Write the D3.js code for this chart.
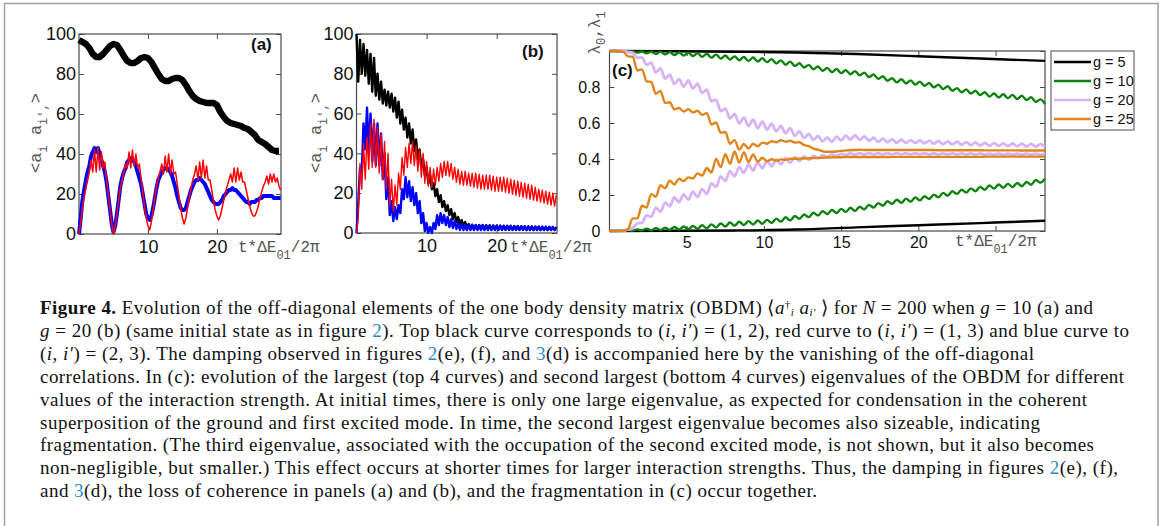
<!DOCTYPE html>
<html>
<head>
<meta charset="utf-8">
<script src="https://cdn.jsdelivr.net/npm/d3@7"></script>
<style>
  body { margin: 0; background: #fff; }
  svg { display: block; }
</style>
</head>
<body>
<div id="chart"></div>
<script>
// ---------- panel (a): g = 10 ----------
const stepBlackA = 0.5;
const blackA = [97,96,95,93,90,88.5,88.5,90,92,94,95,94.5,92,89,86.5,85.5,85.5,86.5,88,88.5,
  88,86,83,80,77.5,76.5,76.5,77.5,78,78,77,74.5,71.5,69,67.5,66.5,66,65.5,65.5,65.5,
  64.5,61,58.5,56.5,55.5,55,54.5,54,53,52.5,51,49.5,47,46,45,43.5,42,41.5,41.5];
const stepA = 0.25;
const redA = [0,6,13,19,23,27,31,37,31,42,31,43,32,41,33,36,27,20,12,5,0,
  4,10,17,23,27,31,35,33,41,33,42,34,40,33,35,28,21,14,8,4,2,
  6,12,18,24,28,31,35,30,39,31,40,30,37,30,31,25,19,13,8,5,
  8,13,18,23,27,30,34,27,36,28,37,28,34,27,27,22,17,12,9,7,
  9,13,17,21,24,27,30,26,33,26,33,27,31,26,26,22,18,14,11,9,9,
  11,14,18,21,24,26,29,25,30,26,30,26,28,24,22];
const blueA = [0,8,17,22,27,31,34,39,41,43,41,43,40,37,34,31,26,19,12,5,1,
  4,10,17,24,28,31,33,36,37,38,37,36,34,31,28,25,20,15,10,8,7,
  9,13,18,23,27,29,31,32,33,33,32,31,29,26,23,19,16,13,12,12,
  13,16,19,22,24,26,27,27,28,27,26,25,23,21,19,17,16,15,15,15,
  16,17,19,20,21,22,22,23,22,22,21,20,19,18,17,16,16,15,16,16,16,
  17,17,18,18,19,19,19,19,19,19,18,18,18,18,18];

// ---------- panel (b): g = 20 ----------
const stepB = 0.25;
const blackB = [100,76,97,80,95,79,92,75,90,71,88,69,80,67,76,65,72,64,71,63,
  70,61,68,58,66,55,62,52,58,48,55,45,52,41,47,37,42,33,37,29,
  33,25,29,22,25,18.5,22,15.5,19,13,16,11,14,9,12,7,10,5.5,8,4.5,
  6.5,3.5,5.5,3,4.5,2.5,4.2,2,4,2,4,1.9,4,1.9,3.9,1.8,3.9,1.8,3.8,1.8,
  3.8,1.8,3.7,1.7,3.7,1.7,3.6,1.7,3.6,1.6,3.5,1.6,3.5,1.6,3.4,1.6,3.4,1.5,3.3,1.5,
  3.3,1.5,3.2,1.5,3.2,1.5,3.1,1.5,3.1,1.5,3,1.5,3,1.5,3];
const redB = [0,8,35,22,45,27,48,32,55,33,57,33,53,30,50,27,46,22,40,14,
  27,11,24,14,30,22,38,29,43,33,45,35,46,34,44,31,42,28,40,25,
  36,23.5,33,23,32,24,33,26,35,28,36,29,36,28.5,35,27,33,25.5,32,24.5,
  31,24,31,24,30,23.5,30,23,30,22.5,29.5,22,29,22,29,22,29,21.5,28.5,21,
  28,21,28,21,28,20.5,27.5,20,27,19.5,26.5,19,26,18.5,25.5,18,25,17.5,24.5,17,
  24,16.5,23,16,22,15.5,21.5,15,21,14.5,20.5,14,20,13.5,19];
const blueB = [0,15,33,30,55,42,63,40,60,36,55,34,55,34,50,27,40,17,28,9,
  16,6,13,7,14,10,22,17,28,18,26,16,23,14,20,10,16,5,10,1,
  5,0,3,0,5,2,9,4,10,5,9,4,8,3,7,2.5,6,2,5,1.5,
  4.5,1.5,4.2,1.5,4,1.5,4,1.5,3.9,1.5,3.9,1.5,3.8,1.5,3.8,1.5,3.7,1.5,3.7,1.5,
  3.6,1.5,3.6,1.5,3.5,1.5,3.5,1.5,3.5,1.5,3.4,1.5,3.4,1.5,3.3,1.5,3.3,1.5,3.3,1.5,
  3.2,1.5,3.2,1.5,3.2,1.5,3.1,1.5,3.1,1.5,3.1,1.5,3,1.5,3];

// ---------- panel (c): eigenvalues lambda0 (top) and lambda1 (bottom) ----------
const tBlackC = [0,4,8,12,16,20,24,28.2];
const g5Top = [1,0.999,0.996,0.992,0.983,0.971,0.958,0.945];
const g5Bot = [0,0.001,0.003,0.008,0.02,0.032,0.044,0.057];
const stepC = 0.3;
const g10Top = [1,1,0.997,0.999,0.994,0.998,0.991,0.997,0.987,0.996,0.984,0.995,0.981,0.994,0.978,0.992,0.975,0.99,0.972,0.988,
  0.968,0.985,0.963,0.98,0.958,0.975,0.953,0.97,0.949,0.967,0.945,0.964,0.942,0.96,0.938,0.955,0.931,0.948,0.924,0.941,
  0.917,0.932,0.908,0.923,0.899,0.914,0.89,0.906,0.883,0.9,0.877,0.894,0.871,0.888,0.865,0.88,0.855,0.87,0.845,0.86,
  0.835,0.849,0.826,0.843,0.82,0.837,0.813,0.83,0.807,0.822,0.798,0.813,0.788,0.804,0.779,0.794,0.771,0.787,0.763,0.779,
  0.755,0.771,0.747,0.764,0.742,0.76,0.738,0.756,0.733,0.751,0.728,0.743,0.717,0.731,0.705];
const g10Bot = [0,0,0.003,0.001,0.006,0.002,0.009,0.003,0.013,0.004,0.016,0.005,0.019,0.006,0.022,0.008,0.025,0.01,0.028,0.012,
  0.032,0.015,0.037,0.02,0.042,0.025,0.047,0.03,0.051,0.033,0.055,0.036,0.058,0.04,0.062,0.045,0.069,0.052,0.076,0.059,
  0.083,0.068,0.092,0.077,0.101,0.086,0.11,0.094,0.117,0.1,0.123,0.106,0.129,0.112,0.135,0.12,0.145,0.13,0.155,0.14,
  0.165,0.151,0.174,0.157,0.18,0.163,0.187,0.17,0.193,0.178,0.202,0.187,0.212,0.196,0.221,0.206,0.229,0.213,0.237,0.221,
  0.245,0.229,0.253,0.236,0.258,0.24,0.262,0.244,0.267,0.249,0.272,0.257,0.283,0.269,0.29];
const g20Top = [1,1,1,1,0.995,0.99,0.962,0.965,0.923,0.935,0.882,0.903,0.847,0.868,0.817,0.843,0.802,0.836,0.792,0.818,
  0.767,0.785,0.72,0.73,0.665,0.68,0.625,0.65,0.598,0.63,0.583,0.618,0.572,0.607,0.564,0.596,0.554,0.584,0.542,0.571,
  0.529,0.554,0.517,0.54,0.506,0.529,0.498,0.519,0.496,0.524,0.503,0.53,0.508,0.532,0.506,0.526,0.501,0.518,0.495,0.513,
  0.493,0.509,0.49,0.507,0.49,0.505,0.489,0.504,0.487,0.502,0.485,0.5,0.483,0.498,0.481,0.496,0.479,0.494,0.477,0.492,
  0.475,0.49,0.473,0.488,0.472,0.487,0.471,0.486,0.47,0.485,0.469,0.484,0.468,0.483,0.467];
const g20Bot = [0,0,0,0.002,0.008,0.015,0.043,0.045,0.087,0.08,0.128,0.107,0.158,0.137,0.186,0.16,0.204,0.175,0.218,0.189,
  0.233,0.205,0.265,0.245,0.303,0.278,0.332,0.305,0.355,0.323,0.37,0.336,0.38,0.349,0.39,0.359,0.398,0.37,0.405,0.379,
  0.41,0.388,0.414,0.396,0.418,0.404,0.422,0.412,0.426,0.417,0.429,0.421,0.431,0.424,0.433,0.425,0.433,0.426,0.433,0.426,
  0.433,0.426,0.433,0.426,0.432,0.426,0.432,0.426,0.432,0.425,0.432,0.425,0.431,0.425,0.431,0.425,0.431,0.425,0.431,0.425,
  0.431,0.425,0.43,0.424,0.43,0.424,0.43,0.424,0.43,0.424,0.43,0.424,0.43,0.424,0.43];
const g25Top = [1,1,1,0.995,0.97,0.968,0.892,0.898,0.832,0.828,0.762,0.778,0.712,0.715,0.675,0.683,0.664,0.676,0.659,0.668,
  0.645,0.655,0.592,0.603,0.545,0.55,0.485,0.505,0.452,0.483,0.458,0.485,0.47,0.491,0.485,0.499,0.493,0.504,0.496,0.501,
  0.492,0.493,0.477,0.472,0.458,0.452,0.443,0.44,0.44,0.442,0.445,0.447,0.449,0.45,0.451,0.45,0.45,0.45,0.45,0.45,
  0.45,0.45,0.45,0.45,0.45,0.45,0.45,0.45,0.45,0.45,0.45,0.449,0.449,0.449,0.449,0.449,0.449,0.449,0.449,0.449,
  0.449,0.448,0.448,0.448,0.448,0.448,0.448,0.448,0.448,0.447,0.447,0.447,0.447,0.447,0.447];
const g25Bot = [0,0,0,0.003,0.01,0.07,0.07,0.14,0.13,0.205,0.19,0.255,0.237,0.28,0.258,0.29,0.277,0.298,0.292,0.32,
  0.308,0.35,0.325,0.4,0.355,0.427,0.373,0.442,0.38,0.438,0.383,0.425,0.385,0.407,0.388,0.399,0.39,0.398,0.395,0.401,
  0.401,0.402,0.403,0.404,0.405,0.406,0.407,0.408,0.409,0.41,0.41,0.411,0.411,0.411,0.411,0.411,0.411,0.411,0.411,0.411,
  0.411,0.412,0.412,0.412,0.412,0.412,0.412,0.412,0.412,0.412,0.412,0.412,0.412,0.412,0.412,0.412,0.412,0.412,0.412,0.412,
  0.412,0.413,0.413,0.413,0.413,0.413,0.413,0.413,0.413,0.413,0.413,0.413,0.413,0.413,0.413];

const legendLabels = ["g = 5", "g = 10", "g = 20", "g = 25"];
const legendColors = ["#000000", "#0b820b", "#d6b2f7", "#e2841c"];

const yTicksAB = [0, 20, 40, 60, 80, 100];
const xTicksAB = [10, 20];
const yTicksC = [0, 0.2, 0.4, 0.6, 0.8, 1];
const xTicksC = [5, 10, 15, 20, 25];

const captionLines = [
  [["Figure 4.", "b"], [" Evolution of the off-diagonal elements of the one body density matrix (OBDM) \u27e8", ""], ["a", "i"], ["\u2020", "sup"], ["i", "sub"], [" ", ""], ["a", "i"], ["i\u2032", "sub"], [" \u27e9 for ", ""], ["N", "i"], [" = 200 when ", ""], ["g", "i"], [" = 10 (a) and", ""]],
  [["g", "i"], [" = 20 (b) (same initial state as in figure ", ""], ["2", "l"], ["). Top black curve corresponds to (", ""], ["i", "i"], [", ", ""], ["i\u2032", "i"], [") = (1, 2), red curve to (", ""], ["i", "i"], [", ", ""], ["i\u2032", "i"], [") = (1, 3) and blue curve to", ""]],
  [["(", ""], ["i", "i"], [", ", ""], ["i\u2032", "i"], [") = (2, 3). The damping observed in figures ", ""], ["2", "l"], ["(e), (f), and ", ""], ["3", "l"], ["(d) is accompanied here by the vanishing of the off-diagonal", ""]],
  [["correlations. In (c): evolution of the largest (top 4 curves) and second largest (bottom 4 curves) eigenvalues of the OBDM for different", ""]],
  [["values of the interaction strength. At initial times, there is only one large eigenvalue, as expected for condensation in the coherent", ""]],
  [["superposition of the ground and first excited mode. In time, the second largest eigenvalue becomes also sizeable, indicating", ""]],
  [["fragmentation. (The third eigenvalue, associated with the occupation of the second excited mode, is not shown, but it also becomes", ""]],
  [["non-negligible, but smaller.) This effect occurs at shorter times for larger interaction strengths. Thus, the damping in figures ", ""], ["2", "l"], ["(e), (f),", ""]],
  [["and ", ""], ["3", "l"], ["(d), the loss of coherence in panels (a) and (b), and the fragmentation in (c) occur together.", ""]]
];
const captionWidths = [1053, 1089, 994, 1084, 1047, 1000, 1054, 1078, 777];

const W = 1168, H = 526;
const sans = "'Liberation Sans', Arial, Helvetica, sans-serif";
const mono = "'Liberation Mono', 'DejaVu Sans Mono', monospace";
const serif = "'Liberation Serif', 'Times New Roman', serif";

const svg = d3.select("#chart").append("svg")
  .attr("width", W).attr("height", H)
  .style("background", "#fff");

// outer figure frame
svg.append("path")
  .attr("d", `M4.5,${H} V3.5 H1158 V${H}`)
  .attr("fill", "none").attr("stroke", "#a0a0a0").attr("stroke-width", 1.5);

function makePanel(o) {
  const x = d3.scaleLinear().domain(o.xd).range([o.left, o.right]);
  const y = d3.scaleLinear().domain(o.yd).range([o.bottom, o.top]);
  const g = svg.append("g");

  const styleAxis = sel => {
    sel.attr("color", "#4a4a4a");
    sel.select(".domain").remove();
    sel.selectAll("text").attr("fill", "#111").style("font-family", sans).style("font-size", o.fs + "px");
  };

  g.append("g").attr("transform", `translate(0,${o.bottom})`)
    .call(d3.axisBottom(x).tickValues(o.xt).tickFormat(o.xf).tickSizeInner(-5).tickSizeOuter(0).tickPadding(o.xpad))
    .call(styleAxis);
  g.append("g").attr("transform", `translate(0,${o.top})`)
    .call(d3.axisTop(x).tickValues(o.xt).tickFormat("").tickSizeInner(-5).tickSizeOuter(0))
    .call(styleAxis);
  g.append("g").attr("transform", `translate(${o.left},0)`)
    .call(d3.axisLeft(y).tickValues(o.yt).tickFormat(o.yf).tickSizeInner(-5).tickSizeOuter(0).tickPadding(o.ypad))
    .call(styleAxis);
  g.append("g").attr("transform", `translate(${o.right},0)`)
    .call(d3.axisRight(y).tickValues(o.yt).tickFormat("").tickSizeInner(-5).tickSizeOuter(0))
    .call(styleAxis);

  g.append("rect")
    .attr("x", o.left).attr("y", o.top)
    .attr("width", o.right - o.left).attr("height", o.bottom - o.top)
    .attr("fill", "none").attr("stroke", "#4a4a4a").attr("stroke-width", 1.2);

  return { x, y, g };
}

function drawSeries(p, values, step, color, width, curve) {
  const line = d3.line()
    .x((d, i) => p.x(i * step))
    .y(d => p.y(d))
    .curve(curve || d3.curveLinear);
  p.g.append("path")
    .datum(values)
    .attr("d", line)
    .attr("fill", "none")
    .attr("stroke", color)
    .attr("stroke-width", width)
    .attr("stroke-linejoin", "round");
}

function drawSeriesXY(p, xs, values, color, width) {
  const line = d3.line()
    .x((d, i) => p.x(xs[i]))
    .y(d => p.y(d))
    .curve(d3.curveMonotoneX);
  p.g.append("path")
    .datum(values)
    .attr("d", line)
    .attr("fill", "none")
    .attr("stroke", color)
    .attr("stroke-width", width);
}

// axis labels in grey monospace, like the original
function xLabel(x0, y0) {
  const t = svg.append("text")
    .attr("x", x0).attr("y", y0)
    .style("font-family", mono).style("font-size", "16px").attr("fill", "#555");
  t.append("tspan").text("t*\u0394E");
  t.append("tspan").text("01").style("font-size", "12px").attr("dy", 7);
  t.append("tspan").text("/2\u03c0").attr("dy", -7);
}

function yLabelA(cx, cy) {
  const t = svg.append("text")
    .attr("transform", `translate(${cx},${cy}) rotate(-90)`)
    .attr("text-anchor", "middle")
    .style("font-family", mono).style("font-size", "17px").attr("fill", "#555");
  t.append("tspan").text("<a");
  t.append("tspan").text("i").style("font-size", "12px").attr("dy", 6);
  t.append("tspan").text(" a").attr("dy", -6);
  t.append("tspan").text("i\u2032,").style("font-size", "12px").attr("dy", 6);
  t.append("tspan").text(">").attr("dy", -6);
}

function panelTag(txt, x0, y0) {
  svg.append("text").attr("x", x0).attr("y", y0).text(txt)
    .style("font-family", sans).style("font-size", "17px").style("font-weight", "bold").attr("fill", "#111");
}

// ---- panel (a)
const pa = makePanel({ left: 79, right: 281, top: 34, bottom: 234, xd: [0, 29.3], yd: [0, 100],
  xt: xTicksAB, yt: yTicksAB, xf: d3.format("d"), yf: d3.format("d"), fs: 18, xpad: 6, ypad: 3 });
drawSeries(pa, blackA, stepBlackA, "#000", 6.5);
drawSeries(pa, blueA, stepA, "#0000ff", 4);
drawSeries(pa, redA, stepA, "#ff0000", 1.5);
panelTag("(a)", 251, 50);
yLabelA(41, 133);
xLabel(238, 252);

// ---- panel (b)
const pb = makePanel({ left: 356.5, right: 557, top: 34, bottom: 233, xd: [0, 28.6], yd: [0, 100],
  xt: xTicksAB, yt: yTicksAB, xf: d3.format("d"), yf: d3.format("d"), fs: 18, xpad: 6, ypad: 3 });
drawSeries(pb, blackB, stepB, "#000", 2.4);
drawSeries(pb, blueB, stepB, "#0000ff", 2.4);
drawSeries(pb, redB, stepB, "#ff0000", 1.4);
panelTag("(b)", 522, 57);
yLabelA(321, 133);
xLabel(510, 252);

// ---- panel (c)
const pc = makePanel({ left: 609.5, right: 1045, top: 51, bottom: 231, xd: [0, 28.2], yd: [0, 1],
  xt: xTicksC, yt: yTicksC, xf: d => d === 25 ? "" : d, yf: d => d === 1 ? "" : (d === 0 ? "0" : d3.format(".1f")(d)),
  fs: 16, xpad: 6, ypad: 9 });
drawSeriesXY(pc, tBlackC, g5Top, legendColors[0], 2.4);
drawSeriesXY(pc, tBlackC, g5Bot, legendColors[0], 2.4);
drawSeries(pc, g10Top, stepC, legendColors[1], 2.4, d3.curveMonotoneX);
drawSeries(pc, g10Bot, stepC, legendColors[1], 2.4, d3.curveMonotoneX);
drawSeries(pc, g20Top, stepC, legendColors[2], 2.8, d3.curveMonotoneX);
drawSeries(pc, g20Bot, stepC, legendColors[2], 2.8, d3.curveMonotoneX);
drawSeries(pc, g25Top, stepC, legendColors[3], 2.4, d3.curveMonotoneX);
drawSeries(pc, g25Bot, stepC, legendColors[3], 2.4, d3.curveMonotoneX);
panelTag("(c)", 612, 76);
xLabel(955, 246);

// lambda label
{
  const t = svg.append("text")
    .attr("transform", "translate(600,33) rotate(-90)")
    .attr("text-anchor", "middle")
    .style("font-family", mono).style("font-size", "16px").attr("fill", "#555");
  t.append("tspan").text("\u03bb");
  t.append("tspan").text("0").style("font-size", "12px").attr("dy", 5);
  t.append("tspan").text(",\u03bb").attr("dy", -5);
  t.append("tspan").text("1").style("font-size", "12px").attr("dy", 5);
}

// legend
const lg = svg.append("g");
lg.append("rect").attr("x", 1051).attr("y", 51).attr("width", 83).attr("height", 79)
  .attr("fill", "#fff").attr("stroke", "#4a4a4a").attr("stroke-width", 1);
const legendY = d3.scalePoint().domain(legendLabels).range([62, 119]);
legendLabels.forEach((lab, i) => {
  lg.append("line").attr("x1", 1054).attr("x2", 1091)
    .attr("y1", legendY(lab)).attr("y2", legendY(lab))
    .attr("stroke", legendColors[i]).attr("stroke-width", 2.6);
  lg.append("text").attr("x", 1093).attr("y", legendY(lab) + 5).text(lab)
    .style("font-family", sans).style("font-size", "14.5px").attr("fill", "#111");
});

// caption
const cap = svg.append("g").style("font-family", serif).style("font-size", "19px").attr("fill", "#111");
captionLines.forEach((segs, li) => {
  const t = cap.append("text")
    .attr("x", 40).attr("y", 314 + li * 22.9)
    .attr("textLength", captionWidths[li]).attr("lengthAdjust", "spacing");
  segs.forEach(([txt, st]) => {
    const s = t.append("tspan").text(txt);
    if (st === "b") s.style("font-weight", "bold");
    if (st === "i") s.style("font-style", "italic");
    if (st === "l") s.attr("fill", "#2a8bc4");
    if (st === "sup") s.style("font-size", "11px").attr("baseline-shift", "6px");
    if (st === "sub") s.style("font-size", "11px").style("font-style", "italic").attr("baseline-shift", "-2px");
  });
});
</script>
</body>
</html>
